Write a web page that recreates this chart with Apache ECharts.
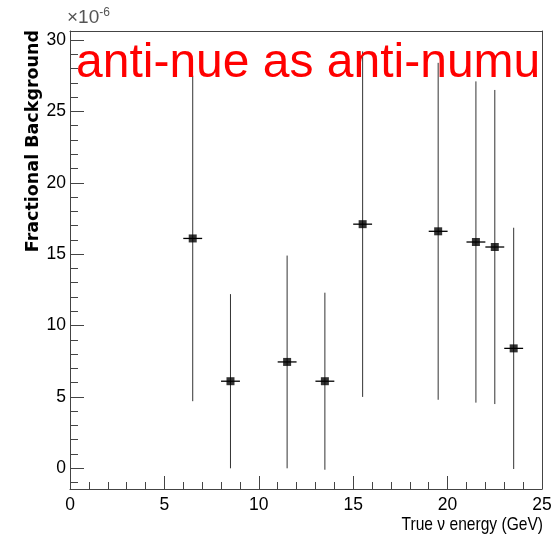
<!DOCTYPE html>
<html>
<head>
<meta charset="utf-8">
<script src="https://cdn.jsdelivr.net/npm/echarts@6/dist/echarts.min.js"></script>
<style>html,body{margin:0;padding:0;background:#fff;}#c{width:551px;height:539px;}</style>
</head>
<body>
<div id="c"></div>
<script>
const energies = [6.5, 8.5, 11.5, 13.5, 15.5, 19.5, 21.5, 22.5, 23.5];
const values   = [16.1, 6.1, 7.45, 6.1, 17.1, 16.6, 15.85, 15.5, 8.4];
const yErrors  = [11.4, 6.1, 7.45, 6.2, 12.1, 11.8, 11.25, 11.0, 8.45];
const xErrors  = [0.5, 0.5, 0.5, 0.5, 0.5, 0.5, 0.5, 0.5, 0.5];
const xTicks = [0, 5, 10, 15, 20, 25];
const yTicks = [0, 5, 10, 15, 20, 25, 30];

const pts = energies.map((e, i) => [e, values[i], yErrors[i], xErrors[i]]);
const sans = "'Liberation Sans', Arial, sans-serif";
const axisCol = '#444';

const chart = echarts.init(document.getElementById('c'), null, {renderer: 'canvas'});
chart.setOption({
  animation: false,
  backgroundColor: '#fff',
  title: {
    text: 'anti-nue as anti-numu',
    left: 76, top: 40, padding: 0,
    textStyle: {fontFamily: sans, fontSize: 48, fontWeight: 'normal', color: '#ff0000', lineHeight: 48}
  },
  grid: {left: 70, right: 9, top: 31, bottom: 50, show: false, outerBoundsMode: 'none', containLabel: false},
  xAxis: [{
    type: 'value', min: 0, max: 25, interval: 5,
    axisLine: {show: true, onZero: false, lineStyle: {color: axisCol, width: 1}},
    axisTick: {show: true, inside: true, length: 13, lineStyle: {color: axisCol}},
    minorTick: {show: true, splitNumber: 5, length: 7, lineStyle: {color: axisCol}},
    axisLabel: {fontFamily: sans, fontSize: 17.5, color: '#000', margin: 7,
      formatter: v => xTicks.includes(v) ? String(v) : ''},
    splitLine: {show: false}, minorSplitLine: {show: false}
  }, {
    type: 'value', min: 0, max: 25, interval: 5, position: 'top',
    axisLine: {show: true, onZero: false, lineStyle: {color: axisCol, width: 1}},
    axisTick: {show: false}, axisLabel: {show: false}, splitLine: {show: false}
  }],
  yAxis: [{
    type: 'value', min: -1.45, max: 30.63, minInterval: 5, maxInterval: 5,
    axisLine: {show: true, onZero: false, lineStyle: {color: axisCol, width: 1}},
    axisTick: {show: true, inside: true, length: 14, lineStyle: {color: axisCol}},
    axisLabel: {fontFamily: sans, fontSize: 17.5, color: '#000', margin: 4, showMinLabel: false, showMaxLabel: false,
      formatter: v => yTicks.includes(v) ? String(v) : ''},
    splitLine: {show: false}
  }, {
    type: 'value', min: -1.45, max: 30.63, minInterval: 1, maxInterval: 1, position: 'left',
    axisLine: {show: false, onZero: false},
    axisTick: {show: true, inside: true, length: 8, lineStyle: {color: axisCol}},
    axisLabel: {show: false},
    splitLine: {show: false}
  }, {
    type: 'value', min: -1.45, max: 30.63, position: 'right',
    axisLine: {show: true, onZero: false, lineStyle: {color: axisCol, width: 1}},
    axisTick: {show: false}, axisLabel: {show: false}, splitLine: {show: false}
  }],
  graphic: [{
    type: 'text', left: 67, top: 7,
    style: {
      text: '\u00d710{s|-6}',
      fontFamily: sans, fontSize: 19, fill: '#555',
      rich: {s: {fontFamily: sans, fontSize: 12, fill: '#555', verticalAlign: 'top', padding: [0, 0, 9, 0]}}
    }
  }, {
    type: 'text', x: 33, y: 30, rotation: Math.PI / 2,
    style: {
      text: 'Fractional Background', fontFamily: "'DejaVu Sans', sans-serif", fontWeight: 'bold', fontSize: 17.5,
      fill: '#000', align: 'right', verticalAlign: 'middle'
    }
  }, {
    type: 'text', x: 543, y: 515, scaleX: 0.82,
    style: {
      text: 'True \u03bd energy (GeV)', fontFamily: sans, fontSize: 19,
      fill: '#000', align: 'right', verticalAlign: 'top'
    }
  }],
  series: [{
    type: 'custom',
    coordinateSystem: 'cartesian2d',
    data: pts,
    renderItem: function (params, api) {
      const x = api.value(0), y = api.value(1), ey = api.value(2), ex = api.value(3);
      const top = api.coord([x, y + ey]);
      const bot = api.coord([x, y - ey]);
      const l = api.coord([x - ex, y]);
      const r = api.coord([x + ex, y]);
      return {
        type: 'group',
        children: [
          {type: 'line', shape: {x1: top[0], y1: top[1], x2: bot[0], y2: bot[1]}, style: {stroke: '#333', lineWidth: 1}},
          {type: 'line', shape: {x1: l[0], y1: l[1], x2: r[0], y2: r[1]}, style: {stroke: '#000', lineWidth: 1.3}}
        ]
      };
    },
    z: 2
  }, {
    type: 'scatter',
    data: pts.map(p => [p[0], p[1]]),
    symbol: 'rect', symbolSize: 8,
    itemStyle: {color: '#000'},
    z: 3
  }]
});
</script>
</body>
</html>
